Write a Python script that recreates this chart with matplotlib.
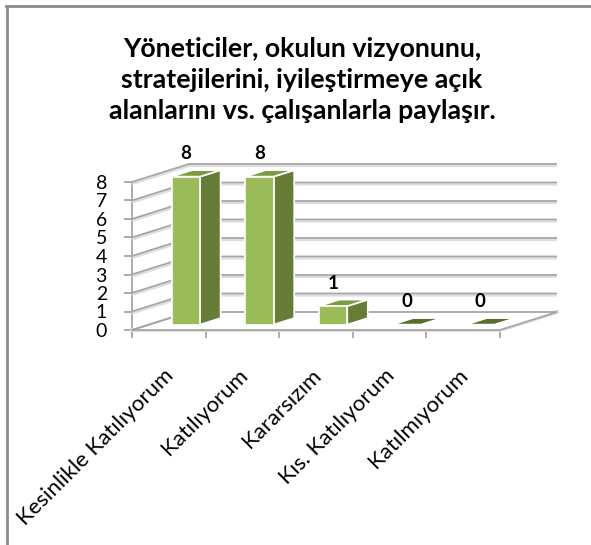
import numpy as np
import matplotlib
matplotlib.use("Agg")
import matplotlib.pyplot as plt
from matplotlib.patches import Polygon
from matplotlib.transforms import IdentityTransform

plt.rcParams['font.family'] = ['Lato', 'DejaVu Sans']

# Data
categories = ["Kesinlikle Katılıyorum", "Katılıyorum", "Kararsızım",
              "Kıs. Katılıyorum", "Katılmıyorum"]
values = [8, 8, 1, 0, 0]
y_ticks = [0, 1, 2, 3, 4, 5, 6, 7, 8]
title = "Yöneticiler, okulun vizyonunu,\nstratejilerini, iyileştirmeye açık\nalanlarını vs. çalışanlarla paylaşır."

W, H = 591, 545
fig = plt.figure(figsize=(W / 100, H / 100), dpi=100)
ax = fig.add_axes([132 / W, 215 / H, 368 / W, 148 / H])
ax.set_xlim(0, len(categories))
ax.set_ylim(0, 8)

# depth offset of the 3D box in pixels
DX, DY = 57, 18
grid_c = "#a6a6a6"
shadow_c = "#dedede"


def proj(x, y, d):
    px, py = ax.transData.transform((x, y))
    return (px + d * DX, py + d * DY)


def poly(pts, **kw):
    p = Polygon([proj(*q) for q in pts], closed=True, transform=IdentityTransform(), **kw)
    fig.add_artist(p)


def line(pts, **kw):
    xy = np.array([proj(*q) for q in pts])
    fig.add_artist(plt.Line2D(xy[:, 0], xy[:, 1], transform=IdentityTransform(), **kw))


def gline(pts):
    xy = np.array([proj(*q) for q in pts])
    fig.add_artist(plt.Line2D(xy[:, 0], xy[:, 1] - 2, transform=IdentityTransform(),
                              color=shadow_c, lw=1.6, solid_capstyle='butt'))
    fig.add_artist(plt.Line2D(xy[:, 0], xy[:, 1], transform=IdentityTransform(),
                              color=grid_c, lw=1.3, solid_capstyle='butt'))


n = len(categories)

# floor
poly([(0, 0, 0), (n, 0, 0), (n, 0, 1), (0, 0, 1)], facecolor="white",
     edgecolor=grid_c, lw=1.3, zorder=1)
line([(0, 0, 0), (n, 0, 0), (n, 0, 1)], color=shadow_c, lw=3, zorder=0.9)

# walls: left side diagonals and back wall lines
for v in y_ticks:
    if v == 0:
        line([(0, 0, 0), (0, 0, 1)], color=grid_c, lw=1.3, zorder=1.1)
        continue
    gline([(0, v, 0), (0, v, 1), (n, v, 1)])

# bars
w = 0.385
d0, d1 = 0.3, 0.66
front_c, side_c, top_c, zero_c = "#9bbb59", "#677d37", "#7b9a42", "#586f2e"
for i, v in enumerate(values):
    x0, x1 = i + 0.5 - w / 2, i + 0.5 + w / 2
    ekw = dict(edgecolor="white", lw=1.2, zorder=3, joinstyle='round')
    if v > 0:
        poly([(x1, 0, d0), (x1, 0, d1), (x1, v, d1), (x1, v, d0)], facecolor=side_c, **ekw)
        poly([(x0, v, d0), (x1, v, d0), (x1, v, d1), (x0, v, d1)], facecolor=top_c, **ekw)
        poly([(x0, 0, d0), (x1, 0, d0), (x1, v, d0), (x0, v, d0)], facecolor=front_c, **ekw)
    else:
        poly([(x0, 0, d0), (x1, 0, d0), (x1, 0, d1), (x0, 0, d1)], facecolor=zero_c, **ekw)
    tx, _ = proj(i + 0.5, v, d0)
    _, ty = proj(i + 0.5, v, d1)
    fig.text(tx, ty + 8, str(v), transform=IdentityTransform(), ha="center",
             va="bottom", fontsize=13.5, fontweight="bold", color="black")

# axes styling
for s in ["top", "right"]:
    ax.spines[s].set_visible(False)
ax.spines["left"].set_color(grid_c)
ax.spines["left"].set_linewidth(1.3)
ax.spines["bottom"].set_visible(False)
ax.patch.set_alpha(0)
ax.set_yticks(y_ticks)
ax.set_yticklabels([str(t) for t in y_ticks])
ax.set_xticks(range(n + 1))
ax.set_xticklabels([])
ax.tick_params(axis="y", length=6, width=1.3, color=grid_c, pad=12, labelsize=14)
ax.tick_params(axis="x", length=6, width=1.3, color=grid_c)

# category labels
for i, c in enumerate(categories):
    px, py = ax.transData.transform((i + 0.5, 0))
    fig.text(px + 2, py - 42, c, transform=IdentityTransform(), rotation=45,
             rotation_mode="anchor", ha="right", va="center", fontsize=16)

# title
fig.text(302 / W, 1 - 80 / H, title, ha="center", va="center", fontsize=19.3,
         fontweight="bold", linespacing=1.35)

# frame border
fig.add_artist(plt.Line2D([6 / W, 1], [1 - 6 / H, 1 - 6 / H], transform=fig.transFigure,
                          color="#8c8c8c", lw=2))
fig.add_artist(plt.Line2D([7 / W, 7 / W], [0, 1 - 6 / H], transform=fig.transFigure,
                          color="#8c8c8c", lw=2))

fig.savefig("out.png", dpi=100)
